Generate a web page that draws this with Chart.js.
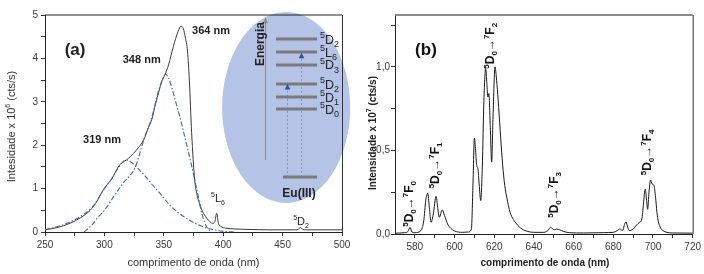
<!DOCTYPE html>
<html><head><meta charset="utf-8">
<script src="https://cdn.jsdelivr.net/npm/chart.js@4"></script>
<style>
html,body{margin:0;padding:0;background:#fff;}
#wrap{position:relative;width:704px;height:274px;overflow:hidden;background:#fff;}
canvas{position:absolute;top:0;}
#ca{left:0;} #cb{left:355px;}
</style></head><body>
<div id="wrap"><canvas id="ca" width="355" height="274"></canvas><canvas id="cb" width="349" height="274"></canvas></div>
<script>
// ---------- Panel (a): excitation spectrum ----------
const excNm = [250,260,271,280,288,294,299,306,313,318.5, 322,327,333,337,340,343,346,348,351,354,
  358,362,364.5,366.5,368,370,371.5,373.4,376,378, 380,382,385,388,391,393,394.5,396,398,402,
  410,420,440,460,463,465,467,470,500];
const excInt = [0.05,0.1,0.2,0.33,0.5,0.72,0.97,1.22,1.55,1.66, 1.74,1.89,2.12,2.4,2.6,2.95,3.25,3.45,3.63,3.85,
  4.27,4.62,4.74,4.68,4.5,4.15,3.5,2.3,1.2,0.85, 0.66,0.51,0.36,0.26,0.2,0.24,0.43,0.2,0.13,0.09,
  0.07,0.06,0.05,0.05,0.06,0.1,0.06,0.05,0.05];
const fit319Nm = [250,260,270,280,290,300,306,311,315,318, 322,328,334,340,348,355,362,370,378,386, 394,402,410];
const fit319Int = [0.05,0.12,0.22,0.36,0.58,1.0,1.22,1.45,1.6,1.66, 1.62,1.47,1.3,1.1,0.85,0.62,0.45,0.3,0.18,0.09, 0.04,0.01,0];
const fit348Nm = [283,289,295,300,306,315,326,334,340,345, 349,351.5,354,357,360,364,368,373,378,382, 386,390];
const fit348Int = [0,0.15,0.35,0.5,0.74,1.1,1.5,2.2,2.65,3.2, 3.52,3.63,3.55,3.3,3.0,2.6,2.15,1.58,0.95,0.43, 0.12,0];
const xTicksA = [250,275,300,325,350,375,400,425,450,475,500];
const xLabelsA = [250,300,350,400,450,500];
const yTicksA = [0,0.5,1,1.5,2,2.5,3,3.5,4,4.5,5];
const yLabelsA = [0,1,2,3,4,5];

// ---------- Panel (b): emission spectrum ----------
const emNm = [570,575,576.5,577.6,578.5,580,583,584.5,585.5,586.5,
  587.3,588.2,589.3,590.7,591.5,592.3,593.8,595,596.5,598,
  600,604,607,608.5,609.3,610,610.6,611.2,611.8,612.4,
  613.2,614,614.8,615.7,616.3,616.8,617.3,618,618.7,619.4,
  620.4,621.2,622,623,624,625,626.3,628,631.3,634,
  637,640,645,647,648.4,649.5,650.5,651.5,653,655,
  658,665,675,680,682,683.4,684.7,685.5,686.4,687.3,
  688,690,691.7,693,694.4,695.2,696.1,696.8,697.3,698,
  698.8,699.5,700.5,701.3,702,702.7,703.9,705,707,710,
  720];
const emInt = [0.005,0.008,0.015,0.04,0.012,0.008,0.02,0.08,0.2,0.244,
  0.16,0.07,0.12,0.225,0.16,0.1,0.144,0.11,0.06,0.035,
  0.018,0.01,0.012,0.03,0.3,0.573,0.5,0.41,0.39,0.3,
  0.2,0.4,0.8,0.99,0.9,0.82,0.84,0.65,0.43,0.7,
  1.0,0.92,0.8,0.62,0.45,0.32,0.22,0.13,0.06,0.03,
  0.015,0.01,0.01,0.02,0.04,0.03,0.025,0.03,0.025,0.015,
  0.008,0.006,0.008,0.01,0.02,0.03,0.02,0.05,0.072,0.04,
  0.02,0.03,0.053,0.068,0.09,0.18,0.268,0.2,0.148,0.25,
  0.323,0.3,0.29,0.22,0.13,0.074,0.035,0.02,0.01,0.006,
  0.005];
const xTicksB = [580,590,600,610,620,630,640,650,660,670,680,690,700,710,720];
const xLabelsB = [580,600,620,640,660,680,700,720];
const yTicksB = [0,0.25,0.5,0.75,1,1.25];
const yLabelsB = [0,0.5,1];

// ---------- helpers ----------
const FF = 'Arial, "Liberation Sans", "DejaVu Sans", sans-serif';
function parse(s){ // ^x = superscript char, _x = subscript char
  const out=[]; for(let i=0;i<s.length;i++){
    const c=s[i];
    if(c==='^'){out.push([s[++i],1]);} else if(c==='_'){out.push([s[++i],-1]);}
    else { if(out.length && out[out.length-1][1]===0) out[out.length-1][0]+=c; else out.push([c,0]); }
  } return out;
}
function rich(ctx, str, x, y, size, bold, align){
  const parts=parse(str), b=bold?'bold ':'', small=Math.round(size*0.68);
  let w=0; const segs=parts.map(([t,m])=>{ctx.font=b+(m?small:size)+'px '+FF; const sw=ctx.measureText(t).width; w+=sw; return {t,m,sw};});
  let cx = align==='center'? x-w/2 : align==='right'? x-w : x;
  ctx.textAlign='left'; ctx.textBaseline='alphabetic';
  segs.forEach(s=>{ctx.font=b+(s.m?small:size)+'px '+FF; const dy=s.m===1?-size*0.42:s.m===-1?size*0.25:0; ctx.fillText(s.t,cx,y+dy); cx+=s.sw;});
}
function richC(ctx,str,cx,cy,size,bold,rot){
  ctx.save(); ctx.translate(cx,cy); if(rot) ctx.rotate(-Math.PI/2);
  rich(ctx,str,0,size*0.36,size,bold,'center'); ctx.restore();
}
const toXY=(xs,ys)=>xs.map((x,i)=>({x,y:ys[i]}));
function axisCfg(min,max,tickVals,labelVals,fmt,fitKey,fitVal,pad){
  return {type:'linear',min,max,
    afterBuildTicks:s=>{s.ticks=tickVals.map(v=>({value:v}));},
    afterFit:s=>{s[fitKey]=fitVal;},
    ticks:{autoSkip:false,maxRotation:0,padding:pad,color:'#3a3a3a',font:{size:10,family:FF},
      callback:v=>labelVals.some(l=>Math.abs(l-v)<1e-9)?fmt(v):''},
    grid:{drawOnChartArea:false,tickLength:4,tickColor:'#333',tickWidth:1},
    border:{color:'#222',width:1}};
}
function frame(chart,topColor,topW){
  const {ctx,chartArea:a}=chart; ctx.save();
  ctx.strokeStyle=topColor; ctx.lineWidth=topW;
  ctx.beginPath(); ctx.moveTo(a.left,a.top); ctx.lineTo(a.right,a.top); ctx.stroke();
  ctx.strokeStyle='#333'; ctx.lineWidth=1;
  ctx.beginPath(); ctx.moveTo(a.right+0.5,a.top); ctx.lineTo(a.right+0.5,a.bottom); ctx.stroke();
  ctx.restore();
}

// ---------- inset & labels for (a) ----------
const plugA={id:'plugA',
  beforeDatasetsDraw(chart){
    const ctx=chart.ctx, xs=chart.scales.x, ys=chart.scales.y;
    const X=v=>xs.getPixelForValue(v), Y=v=>ys.getPixelForValue(v);
    ctx.save();
    const cx=X(453), cy=Y(2.87), rx=X(453+53.9)-cx, ry=cy-Y(2.87+2.2);
    ctx.fillStyle='#b5c3e7'; ctx.beginPath(); ctx.ellipse(cx,cy,rx,ry,0,0,Math.PI*2); ctx.fill();
    // energy axis
    const ax=Math.round(X(435.2))+0.5;
    ctx.strokeStyle='#8c8c8c'; ctx.lineWidth=1;
    ctx.beginPath(); ctx.moveTo(ax,Y(1.66)); ctx.lineTo(ax,Y(4.85)); ctx.stroke();
    ctx.fillStyle='#8c8c8c'; const ay=Y(4.95);
    ctx.beginPath(); ctx.moveTo(ax,ay); ctx.lineTo(ax-2.5,ay+6); ctx.lineTo(ax+2.5,ay+6); ctx.closePath(); ctx.fill();
    ctx.fillStyle='#222'; richC(ctx,'Energia',X(430.4),Y(4.33),12,true,true);
    // dotted transitions
    ctx.strokeStyle='#8393c4'; ctx.lineWidth=1; ctx.setLineDash([2,2]);
    [[453.7,3.34],[465.5,4.06]].forEach(([n,v])=>{ctx.beginPath(); ctx.moveTo(Math.round(X(n))+0.5,Y(1.267)); ctx.lineTo(Math.round(X(n))+0.5,Y(v)); ctx.stroke();});
    ctx.setLineDash([]);
    // levels
    const levels=[[4.447,'^5D_2'],[4.147,'^5L_6'],[3.848,'^5D_3'],[3.41,'^5D_2'],[3.11,'^5D_1'],[2.834,'^5D_0']];
    ctx.strokeStyle='#7a7a7a'; ctx.lineWidth=3;
    levels.forEach(([v])=>{ctx.beginPath(); ctx.moveTo(X(444.4),Y(v)); ctx.lineTo(X(479),Y(v)); ctx.stroke();});
    ctx.beginPath(); ctx.moveTo(X(450.3),Y(1.267)); ctx.lineTo(X(479),Y(1.267)); ctx.stroke();
    ctx.fillStyle='#222';
    levels.forEach(([v,t])=>{rich(ctx,t,X(481.5),Y(v)+4.5,12.5,false,'left');});
    // triangles
    ctx.fillStyle='#2f4f9f';
    [[453.7,3.34],[465.5,4.06]].forEach(([n,v])=>{const tx=Math.round(X(n))+0.5, ty=Y(v); ctx.beginPath(); ctx.moveTo(tx,ty-3); ctx.lineTo(tx-2.8,ty+2.5); ctx.lineTo(tx+2.8,ty+2.5); ctx.closePath(); ctx.fill();});
    ctx.fillStyle='#222'; richC(ctx,'Eu(III)',X(463.8),Y(0.9),12,true,false);
    ctx.restore();
  },
  afterDraw(chart){
    const ctx=chart.ctx, xs=chart.scales.x, ys=chart.scales.y, a=chart.chartArea;
    const X=v=>xs.getPixelForValue(v), Y=v=>ys.getPixelForValue(v);
    frame(chart,'#222',1);
    ctx.save(); ctx.fillStyle='#222';
    richC(ctx,'364 nm',X(389.7),Y(4.65),11,true,false);
    richC(ctx,'348 nm',X(331.4),Y(3.99),11,true,false);
    richC(ctx,'319 nm',X(298),Y(2.14),11,true,false);
    richC(ctx,'(a)',X(275.3),Y(4.22),17,true,false);
    richC(ctx,'^5L_6',X(395.6),Y(0.78),11,false,false);
    richC(ctx,'^5D_2',X(465.5),Y(0.25),11,false,false);
    ctx.fillStyle='#333';
    richC(ctx,'Intesidade x 10^6 (cts/s)',11,(a.top+a.bottom)/2+3,11,false,true);
    richC(ctx,'comprimento de onda (nm)',(a.left+a.right)/2,262,11,false,false);
    ctx.restore();
  }
};

// ---------- labels for (b) ----------
const plugB={id:'plugB',
  afterDraw(chart){
    const ctx=chart.ctx, xs=chart.scales.x, ys=chart.scales.y, a=chart.chartArea;
    const X=v=>xs.getPixelForValue(v), Y=v=>ys.getPixelForValue(v);
    frame(chart,'#8a8a8a',2);
    ctx.save(); ctx.fillStyle='#111';
    richC(ctx,'(b)',X(585.6),Y(1.108),17,true,false);
    richC(ctx,'^5D_0\u2192^7F_0',X(577.1),Y(0.18),12,true,true);
    richC(ctx,'^5D_0\u2192^7F_1',X(590.2),Y(0.41),12,true,true);
    richC(ctx,'^5D_0\u2192^7F_2',X(617.5),Y(1.126),12,true,true);
    richC(ctx,'^5D_0\u2192^7F_3',X(650.1),Y(0.234),12,true,true);
    richC(ctx,'^5D_0\u2192^7F_4',X(697),Y(0.488),12,true,true);
    ctx.fillStyle='#222';
    richC(ctx,'Intensidade x 10^7 (cts/s)',372-355,133,10,true,true);
    richC(ctx,'comprimento de onda (nm)',545-355,262,10,true,false);
    ctx.restore();
  }
};

const common={responsive:false,maintainAspectRatio:false,animation:false,events:[],
  plugins:{legend:{display:false},tooltip:{enabled:false}}};

new Chart(document.getElementById('ca'),{
  type:'line',
  data:{datasets:[
    {data:toXY(fit319Nm,fit319Int),borderColor:'#4863a8',borderWidth:1.1,borderDash:[5,2,1.5,2],pointRadius:0,cubicInterpolationMode:'monotone',fill:false},
    {data:toXY(fit348Nm,fit348Int),borderColor:'#4863a8',borderWidth:1.1,borderDash:[5,2,1.5,2],pointRadius:0,cubicInterpolationMode:'monotone',fill:false},
    {data:toXY(excNm,excInt),borderColor:'#3a3a3a',borderWidth:1,pointRadius:0,cubicInterpolationMode:'monotone',fill:false}
  ]},
  options:Object.assign({},common,{
    layout:{padding:{top:15,right:13,left:0,bottom:0}},
    scales:{
      x:axisCfg(250,500,xTicksA,xLabelsA,v=>String(v),'height',42,3),
      y:axisCfg(0,5,yTicksA,yLabelsA,v=>String(v),'width',45,3)
    }}),
  plugins:[plugA]
});

new Chart(document.getElementById('cb'),{
  type:'line',
  data:{datasets:[
    {data:toXY(emNm,emInt),borderColor:'#1a1a1a',borderWidth:1,pointRadius:0,cubicInterpolationMode:'monotone',fill:false}
  ]},
  options:Object.assign({},common,{
    layout:{padding:{top:15,right:11,left:0,bottom:0}},
    scales:{
      x:axisCfg(570,720,xTicksB,xLabelsB,v=>String(v),'height',40,3),
      y:axisCfg(0,1.31,yTicksB,yLabelsB,v=>v.toFixed(1).replace('.',','),'width',40,1)
    }}),
  plugins:[plugB]
});
</script>
</body></html>
